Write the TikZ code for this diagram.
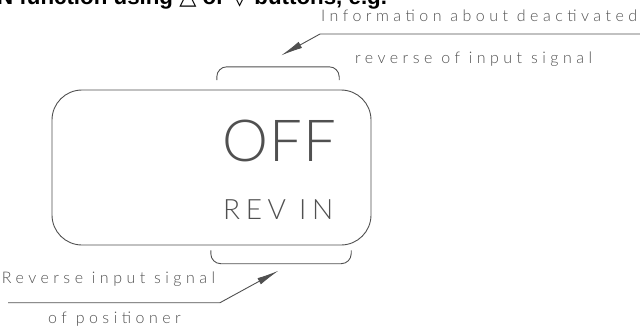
\documentclass[tikz,border=0pt]{standalone}
\usepackage{fontspec}
\usepackage{tikz}
\usetikzlibrary{arrows.meta,positioning,calc}
\newfontfamily\cadfont{Lato}[UprightFont=* Light]
\newfontfamily\notefont{Liberation Sans}
\newfontfamily\symfont{DejaVu Sans}
\definecolor{cadgray}{HTML}{505050}

\begin{document}
\begin{tikzpicture}[x=1pt, y=-1pt,
  >={Latex[length=22pt, width=7pt]},
  lbl/.style={inner sep=0pt, anchor=base west, text=cadgray,
              font=\cadfont\fontsize{16}{18}\selectfont\addfontfeature{LetterSpace=28}},
  leader/.style={draw=cadgray, line width=0.9pt, ->, line join=round},
  bracket/.style={draw=cadgray, line width=0.9pt, rounded corners=10pt},
  area/.style={inner sep=0pt, minimum width=#1, minimum height=13pt}]
\useasboundingbox (0,0) rectangle (640,330);
\clip (0,0) rectangle (640,330);
% cut-off line of the running text above
\node[inner sep=0pt, anchor=base west] (note) at (-3,4.5)
  {\notefont\bfseries\fontsize{22.3}{24}\selectfont N function using {\symfont △} or {\symfont ▽} buttons, e.g.};
% display
\node[draw=cadgray, line width=0.9pt, rounded corners=30pt, minimum width=319pt, minimum height=155pt, inner sep=0pt] (display) at (211.5,167.5) {};
\node[inner sep=0pt, anchor=base west, text=cadgray,
      font=\cadfont\fontsize{58}{60}\selectfont\addfontfeature{LetterSpace=2}] (off) at (222,161.7) {OFF};
\node[inner sep=0pt, anchor=base west, text=cadgray,
      font=\cadfont\fontsize{28}{30}\selectfont\addfontfeature{LetterSpace=20}] (revin) at (223,219.3) {REV IN};
% brackets
\node[area=122pt] (topbr) at (278,73.5) {};
\node[area=140pt] (botbr) at (281,257) {};
\draw[bracket] (topbr.south west) -- (topbr.north west) -- (topbr.north east) -- (topbr.south east);
\draw[bracket] (botbr.north west) -- (botbr.south west) -- (botbr.south east) -- (botbr.north east);
% labels
\node[lbl] (info) at (321,21) {Information about deactivated};
\node[lbl] (infob) at (355,63) {reverse of input signal};
\node[lbl] (revsig) at (1.7,283.3) {Reverse input signal};
\node[lbl] (revsigb) at (48,323) {of positioner};
\coordinate (infoend) at (640,34);
\coordinate (infoknee) at (320,34);
\coordinate (infotip) at (281,55.5);
\coordinate (revend) at (8,302.7);
\coordinate (revknee) at (220,302.7);
\coordinate (revtip) at (278.5,270.7);
\draw[leader] (infoend) -- (infoknee) -- (infotip);
\draw[leader] (revend) -- (revknee) -- (revtip);
\end{tikzpicture}
\end{document}
